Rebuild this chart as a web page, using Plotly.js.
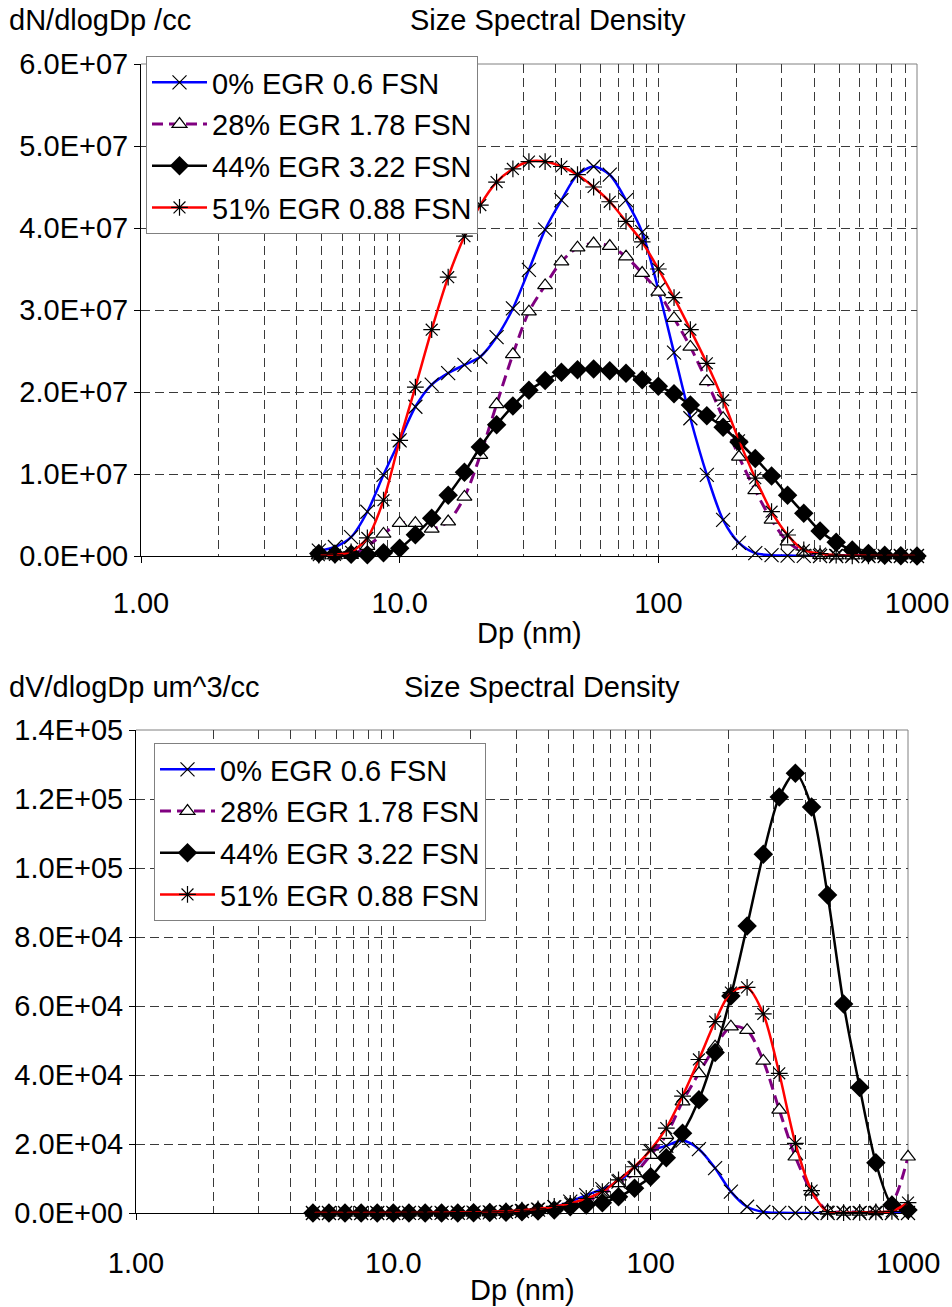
<!DOCTYPE html>
<html>
<head>
<meta charset="utf-8">
<script src="https://cdn.plot.ly/plotly-3.0.1.min.js"></script>
<style>html,body{margin:0;padding:0;background:#fff;}</style>
</head>
<body>
<div id="chart" style="width:952px;height:1307px;"></div>
<script>
// Particle diameter bins (nm), 16 channels per decade
const diameters = [4.87, 5.62, 6.49, 7.50, 8.66, 10.0, 11.5, 13.3, 15.4, 17.8,
  20.5, 23.7, 27.4, 31.6, 36.5, 42.2, 48.7, 56.2, 64.9, 75.0,
  86.6, 100, 115, 133, 154, 178, 205, 237, 274, 316,
  365, 422, 487, 562, 649, 750, 866, 1000];

const seriesNames = ['0% EGR 0.6 FSN', '28% EGR 1.78 FSN', '44% EGR 3.22 FSN', '51% EGR 0.88 FSN'];

// Number size distribution, dN/dlogDp (#/cc)
const numberEgr0 = [0.65e6, 1.1e6, 2.3e6, 5.4e6, 9.9e6, 14.1e6, 18.2e6, 20.9e6, 22.3e6, 23.3e6,
  24.3e6, 26.7e6, 30.2e6, 34.9e6, 39.8e6, 43.4e6, 46.5e6, 47.5e6, 46.5e6, 43.4e6,
  39.5e6, 32.5e6, 24.8e6, 16.8e6, 9.9e6, 4.4e6, 1.6e6, 0.35e6, 0.1e6, 0.05e6,
  0.02e6, 0, 0, 0, 0, 0, 0, 0];
const numberEgr28 = [0.05e6, 0.05e6, 0.1e6, 1.2e6, 2.7e6, 4.0e6, 4.0e6, 3.3e6, 4.2e6, 7.2e6,
  12.3e6, 18.5e6, 24.6e6, 29.8e6, 33.0e6, 35.9e6, 37.6e6, 38.1e6, 37.8e6, 36.5e6,
  34.5e6, 32.2e6, 29.0e6, 25.5e6, 21.3e6, 16.8e6, 12.1e6, 8.0e6, 4.4e6, 1.75e6,
  0.5e6, 0.1e6, 0.05e6, 0.05e6, 0.05e6, 0.05e6, 0.05e6, 0.05e6];
const numberEgr44 = [0.3e6, 0.25e6, 0.2e6, 0.15e6, 0.4e6, 0.95e6, 2.6e6, 4.6e6, 7.4e6, 10.2e6,
  13.3e6, 16.0e6, 18.3e6, 20.2e6, 21.4e6, 22.4e6, 22.7e6, 22.8e6, 22.6e6, 22.3e6,
  21.5e6, 20.7e6, 19.8e6, 18.4e6, 17.1e6, 15.7e6, 13.9e6, 11.9e6, 9.76e6, 7.4e6,
  5.2e6, 3.05e6, 1.67e6, 0.73e6, 0.3e6, 0.08e6, 0.02e6, 0.01e6];
const numberEgr51 = [0.1e6, 0.15e6, 0.5e6, 2.2e6, 6.8e6, 14.1e6, 20.6e6, 27.6e6, 34.0e6, 39.0e6,
  42.8e6, 45.6e6, 47.2e6, 48.1e6, 48.1e6, 47.5e6, 46.5e6, 45.0e6, 43.2e6, 40.8e6,
  38.3e6, 35.0e6, 31.5e6, 27.6e6, 23.5e6, 19.0e6, 14.1e6, 9.5e6, 5.4e6, 2.56e6,
  0.73e6, 0.3e6, 0.1e6, 0.03e6, 0.02e6, 0.01e6, 0.01e6, 0.01e6];

// Volume size distribution, dV/dlogDp (um^3/cc)
const volumeEgr0 = [0, 0, 1, 2, 3, 7, 15, 25, 40, 70,
  110, 190, 330, 580, 1000, 1700, 3300, 5200, 6900, 9100,
  13000, 17800, 19500, 21000, 18500, 13000, 6200, 1800, 300, 50,
  10, 0, 0, 0, 0, 0, 0, 0];
const volumeEgr28 = [0, 0, 0, 0, 0, 2, 2, 4, 8, 20,
  50, 130, 260, 490, 840, 1400, 2300, 3500, 5400, 8600,
  11500, 16800, 22600, 32300, 40500, 48200, 54000, 53000, 44100, 29900,
  16300, 6200, 600, 300, 300, 500, 2900, 16300];
const volumeEgr44 = [0, 0, 0, 0, 0, 1, 3, 8, 20, 30,
  60, 110, 200, 330, 550, 900, 1800, 2300, 3000, 4700,
  7200, 10500, 16000, 23100, 32800, 46500, 62900, 83200, 104000, 120600,
  127500, 117700, 92200, 60600, 36400, 14600, 2300, 900];
const volumeEgr51 = [0, 0, 0, 1, 2, 7, 16, 33, 70, 120,
  190, 320, 510, 800, 1200, 1900, 2800, 4200, 6200, 9600,
  13400, 18300, 24600, 33900, 44500, 55500, 63900, 65400, 57700, 40500,
  20200, 6500, 400, 100, 200, 300, 500, 3000];

// Axis ticks
const xTickVals = [1, 10, 100, 1000];
const xTickText = ['1.00', '10.0', '100', '1000'];
const xMinorVals = [2, 3, 4, 5, 6, 7, 8, 9, 20, 30, 40, 50, 60, 70, 80, 90, 200, 300, 400, 500, 600, 700, 800, 900];
const numberTickVals = [0, 1e7, 2e7, 3e7, 4e7, 5e7, 6e7];
const numberTickText = ['0.0E+00', '1.0E+07', '2.0E+07', '3.0E+07', '4.0E+07', '5.0E+07', '6.0E+07'];
const volumeTickVals = [0, 2e4, 4e4, 6e4, 8e4, 1e5, 1.2e5, 1.4e5];
const volumeTickText = ['0.0E+00', '2.0E+04', '4.0E+04', '6.0E+04', '8.0E+04', '1.0E+05', '1.2E+05', '1.4E+05'];

const FONT = 'Liberation Sans, Arial, sans-serif';
const FS = 29;
const W = 952, H = 1307;
const px = v => v / W;
const py = v => 1 - v / H;

const seriesStyles = [
  { line: { color: '#0000FF', width: 2.5 },
    marker: { symbol: 'x-thin-open', size: 14, color: '#000000', line: { width: 1.2, color: '#000000' } } },
  { line: { color: '#800080', width: 3, dash: '11px,6px' },
    marker: { symbol: 'triangle-up', size: 13, color: '#FFFFFF', line: { width: 1.2, color: '#000000' } } },
  { line: { color: '#000000', width: 2.5 },
    marker: { symbol: 'diamond', size: 15, color: '#000000', line: { width: 0 } } },
  { line: { color: '#FF0000', width: 2.5 },
    marker: { symbol: 'asterisk-open', size: 14, color: '#000000', line: { width: 1.2, color: '#000000' } } }
];

function makeTrace(values, idx, xa, ya, legendId, group) {
  const st = seriesStyles[idx];
  return {
    type: 'scatter', mode: 'lines+markers',
    x: diameters, y: values,
    name: seriesNames[idx],
    xaxis: xa, yaxis: ya,
    legend: legendId, legendgroup: group,
    cliponaxis: false,
    line: Object.assign({ shape: 'spline', smoothing: 0.8 }, st.line),
    marker: st.marker
  };
}

const numberSeries = [numberEgr0, numberEgr28, numberEgr44, numberEgr51];
const volumeSeries = [volumeEgr0, volumeEgr28, volumeEgr44, volumeEgr51];

const traces = [];
numberSeries.forEach((s, i) => traces.push(makeTrace(s, i, 'x', 'y', 'legend', 'n' + i)));
volumeSeries.forEach((s, i) => traces.push(makeTrace(s, i, 'x2', 'y2', 'legend2', 'v' + i)));

const gridColor = '#3a3a3a';
const gridDash = '9px,5px';

function xAxis(domain, anchor, standoff) {
  return {
    type: 'log', range: [0, 3], domain: domain, anchor: anchor,
    tickmode: 'array', tickvals: xTickVals, ticktext: xTickText,
    ticks: 'outside', ticklen: 6, tickwidth: 1, tickcolor: '#000',
    ticklabelstandoff: standoff,
    showline: true, linecolor: '#000', linewidth: 1,
    showgrid: true, gridcolor: gridColor, gridwidth: 1, griddash: gridDash,
    minor: { tickmode: 'array', tickvals: xMinorVals, ticks: '', showgrid: true,
             gridcolor: gridColor, gridwidth: 1, griddash: gridDash },
    zeroline: false, fixedrange: true,
    tickfont: { family: FONT, size: FS, color: '#000' }
  };
}
function yAxis(domain, anchor, range, vals, text) {
  return {
    range: range, domain: domain, anchor: anchor,
    tickmode: 'array', tickvals: vals, ticktext: text,
    ticks: 'outside', ticklen: 6, tickwidth: 1, tickcolor: '#000',
    showline: true, linecolor: '#000', linewidth: 1,
    showgrid: true, gridcolor: gridColor, gridwidth: 1, griddash: gridDash,
    zeroline: false, fixedrange: true,
    tickfont: { family: FONT, size: FS, color: '#000' }
  };
}

function legendBox(x, y) {
  return {
    x: px(x), y: py(y), xanchor: 'left', yanchor: 'top',
    bgcolor: '#FFFFFF', bordercolor: '#808080', borderwidth: 1,
    font: { family: FONT, size: FS, color: '#000' },
    itemwidth: 55, traceorder: 'grouped', tracegroupgap: 1,
    itemclick: false, itemdoubleclick: false
  };
}

function label(text, x, y, anchor) {
  return { text: text, xref: 'paper', yref: 'paper', x: px(x), y: py(y),
           xanchor: anchor, yanchor: 'middle', showarrow: false,
           font: { family: FONT, size: FS, color: '#000' } };
}

function frame(xref, yref) {
  return [
    { type: 'line', xref: xref, yref: yref, x0: 0, x1: 1, y0: 1, y1: 1,
      line: { color: '#808080', width: 1 }, layer: 'below' },
    { type: 'line', xref: xref, yref: yref, x0: 1, x1: 1, y0: 0, y1: 1,
      line: { color: '#808080', width: 1 }, layer: 'below' }
  ];
}

const layout = {
  width: W, height: H,
  margin: { l: 0, r: 0, t: 0, b: 0 },
  paper_bgcolor: '#FFFFFF', plot_bgcolor: '#FFFFFF',
  font: { family: FONT, size: FS, color: '#000' },
  xaxis: xAxis([px(141), px(917)], 'y', 15),
  yaxis: yAxis([py(556), py(64)], 'x', [0, 6e7], numberTickVals, numberTickText),
  xaxis2: xAxis([px(136), px(908)], 'y2', 18),
  yaxis2: yAxis([py(1213), py(730)], 'x2', [0, 1.4e5], volumeTickVals, volumeTickText),
  legend: legendBox(146, 56),
  legend2: legendBox(154, 743),
  showlegend: true,
  annotations: [
    label('dN/dlogDp /cc', 7, 20, 'left'),
    label('Size Spectral Density', 548, 20, 'center'),
    label('Dp (nm)', 529, 633, 'center'),
    label('dV/dlogDp um^3/cc', 7, 687, 'left'),
    label('Size Spectral Density', 542, 687, 'center'),
    label('Dp (nm)', 522, 1290, 'center')
  ],
  shapes: frame('x domain', 'y domain').concat(frame('x2 domain', 'y2 domain'))
};

Plotly.newPlot('chart', traces, layout, { staticPlot: true, displayModeBar: false });
</script>
</body>
</html>
